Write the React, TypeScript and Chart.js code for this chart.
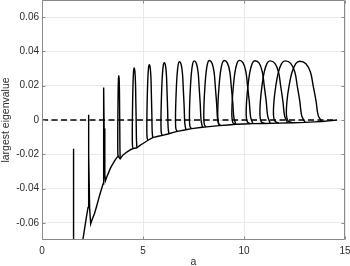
import React, { useEffect, useRef } from 'react';
import { Chart, registerables } from 'chart.js';

Chart.register(...registerables);

// axis ticks
const xTicks = [0, 5, 10, 15];
const xTickLabels = ['0', '5', '10', '15'];
const yTicks = [-0.06, -0.04, -0.02, 0, 0.02, 0.04, 0.06];
const yTickLabels = ['-0.06', '-0.04', '-0.02', '0', '0.02', '0.04', '0.06'];

// dashed zero reference line
const zeroLineA = [0, 14.6];
const zeroLineY = [0, 0];

// first isolated spike
const spikeA = [1.555, 1.56, 1.565];
const spikeY = [-0.085, -0.0167, -0.085];

// lower branch (with the two narrow spikes near a=2.3 and a=3.06)
const envA = [
  1.99, 2.03, 2.12, 2.2, 2.28, 2.3, 2.31, 2.32, 2.36, 2.41, 2.5, 2.6, 2.69, 2.85, 3.02, 3.045, 3.06, 3.075,
  3.11, 3.14, 3.25, 3.4, 3.6, 3.72, 3.775, 3.87, 4.0, 4.2, 4.4, 4.51, 4.7, 4.85, 5.0, 5.25, 5.48, 5.75,
  5.97, 6.28, 6.5, 6.705, 7.12, 7.415, 7.94, 8.145, 8.77, 9.2, 9.6, 10.0, 10.44, 11.04, 11.75, 12.43,
  13.02, 13.5, 13.85, 14.2, 14.6,
];
const envY = [
  -0.075, -0.0693, -0.0625, -0.0565, -0.051, -0.02, 0.003, -0.02, -0.052, -0.0606, -0.0575, -0.0545, -0.0509,
  -0.044, -0.0373, -0.005, 0.019, -0.005, -0.032, -0.0354, -0.032, -0.0278, -0.0237, -0.0217, -0.0212,
  -0.0227, -0.0205, -0.0187, -0.0172, -0.0167, -0.0162, -0.0148, -0.0137, -0.0118, -0.0103, -0.0095,
  -0.009, -0.008, -0.0072, -0.0066, -0.0057, -0.005, -0.0042, -0.004, -0.0033, -0.0029, -0.0025, -0.0023,
  -0.0021, -0.002, -0.0018, -0.0016, -0.0014, -0.0011, -0.0009, -0.0005, 0.0,
];

// loops (peak position/height, base level, leg widths, landing level)
const loopPeakA = [3.8, 4.56, 5.31, 6.05, 6.8, 7.53, 8.28, 9.02, 9.77, 10.54, 11.29, 12.04, 12.76];
const loopPeakY = [0.0258, 0.0303, 0.0322, 0.0334, 0.034, 0.0345, 0.0347, 0.0347, 0.0348, 0.0346, 0.0345, 0.0345, 0.0343];
const loopBaseY = [-0.0212, -0.0167, -0.0118, -0.009, -0.0066, -0.005, -0.004, -0.0032, -0.0026, -0.0022, -0.002, -0.0018, -0.0016];
const loopLeftW = [0.05, 0.09, 0.12, 0.16, 0.19, 0.23, 0.27, 0.32, 0.37, 0.43, 0.5, 0.58, 0.66];
const loopRightW = [0.06, 0.12, 0.15, 0.2, 0.28, 0.36, 0.43, 0.5, 0.58, 0.66, 0.75, 0.85, 0.95];
const loopEndY = [-0.0227, -0.0162, -0.0103, -0.008, -0.0057, -0.0042, -0.0033, -0.0025, -0.0021, -0.0019, -0.0017, -0.0014, -0.0009];

// profile of a loop leg: [fraction of leg width, fraction of height]
const leftProfile = [[0.55, 0], [0.88, 0.03], [1.0, 0.13], [0.96, 0.35], [0.8, 0.6], [0.58, 0.82], [0.3, 0.96]];
const rightProfile = [[0.32, 0.96], [0.56, 0.82], [0.7, 0.6], [0.85, 0.35], [0.96, 0.12]];

const AXIS = '#8a8a8a';
const TEXT = '#2b2b2b';
const GRID = '#e9e9e9';
const FONT = "'Liberation Sans', Arial, sans-serif";

function pairs(a: number[], b: number[]) {
  return a.map((v, i) => ({ x: v, y: b[i] }));
}

function buildLoop(i: number) {
  const pa = loopPeakA[i];
  const yp = loopPeakY[i];
  const yb = loopBaseY[i];
  const lw = loopLeftW[i];
  const rw = loopRightW[i];
  const H = yp - yb;
  const pts: { x: number; y: number }[] = [];
  leftProfile.forEach(([f, t]) => pts.push({ x: pa - f * lw, y: yb + t * H }));
  pts.push({ x: pa, y: yp });
  rightProfile.forEach(([f, t]) => pts.push({ x: pa + f * rw, y: yb + t * H }));
  pts.push({ x: pa + 1.15 * rw, y: loopEndY[i] });
  return pts;
}

const framePlugin = {
  id: 'frame',
  afterDatasetsDraw(chart: any) {
    const { ctx, chartArea } = chart;
    const { left, right, top, bottom } = chartArea;
    const xs = chart.scales.x;
    const ys = chart.scales.y;
    ctx.save();
    ctx.strokeStyle = AXIS;
    ctx.lineWidth = 1;
    const L = Math.round(left) + 0.5;
    const R = Math.round(right) - 0.5;
    const T = Math.round(top) + 0.5;
    const B = Math.round(bottom) - 0.5;
    ctx.beginPath();
    ctx.moveTo(L, T);
    ctx.lineTo(R, T);
    ctx.lineTo(R, B);
    ctx.lineTo(L, B);
    ctx.closePath();
    const tl = 3;
    xTicks.forEach((v) => {
      const px = Math.round(xs.getPixelForValue(v)) + 0.5;
      ctx.moveTo(px, B);
      ctx.lineTo(px, B - tl);
      ctx.moveTo(px, T);
      ctx.lineTo(px, T + tl);
    });
    yTicks.forEach((v) => {
      const py = Math.round(ys.getPixelForValue(v)) + 0.5;
      ctx.moveTo(L, py);
      ctx.lineTo(L + tl, py);
      ctx.moveTo(R, py);
      ctx.lineTo(R - tl, py);
    });
    ctx.stroke();
    ctx.restore();
  },
};

export default function App() {
  const ref = useRef<HTMLCanvasElement | null>(null);
  useEffect(() => {
    document.body.style.margin = '0';
    const canvas = ref.current;
    if (!canvas) return;
    const line = (data: any[], extra: any = {}) => ({
      data,
      showLine: true,
      borderColor: '#000',
      backgroundColor: '#000',
      borderWidth: 1.4,
      pointRadius: 0,
      pointHoverRadius: 0,
      fill: false,
      clip: 0,
      ...extra,
    });
    const datasets: any[] = [
      line(pairs(zeroLineA, zeroLineY), { borderDash: [6, 3.5], borderWidth: 1.3 }),
      line(pairs(spikeA, spikeY)),
      line(pairs(envA, envY), { tension: 0 }),
    ];
    loopPeakA.forEach((_, i) => datasets.push(line(buildLoop(i), { tension: 0.35 })));

    const chart = new Chart(canvas, {
      type: 'scatter',
      data: { datasets },
      plugins: [framePlugin],
      options: {
        animation: false,
        responsive: false,
        devicePixelRatio: 1,
        events: [],
        layout: { padding: { left: 0, right: 5, top: 0, bottom: 0 } },
        plugins: { legend: { display: false }, tooltip: { enabled: false } },
        scales: {
          x: {
            type: 'linear',
            min: 0,
            max: 15,
            border: { display: false },
            grid: { color: GRID, lineWidth: 1, drawTicks: false },
            ticks: {
              padding: 5,
              color: TEXT,
              font: { family: FONT, size: 10 },
              maxRotation: 0,
              callback: (_v: any, i: number) => xTickLabels[i],
            },
            title: {
              display: true,
              text: 'a',
              color: TEXT,
              font: { family: FONT, size: 10.5, lineHeight: 0.76 },
              padding: { top: 0, bottom: 0 },
            },
            afterBuildTicks: (s: any) => {
              s.ticks = xTicks.map((v) => ({ value: v }));
            },
            afterFit: (s: any) => {
              s.height = 26;
              s.paddingLeft = 0;
              s.paddingRight = 0;
            },
          },
          y: {
            type: 'linear',
            min: -0.07,
            max: 0.07,
            border: { display: false },
            grid: { color: GRID, lineWidth: 1, drawTicks: false },
            ticks: {
              padding: 3,
              color: TEXT,
              font: { family: FONT, size: 10 },
              callback: (_v: any, i: number) => yTickLabels[i],
            },
            title: {
              display: true,
              text: 'largest eigenvalue',
              color: TEXT,
              font: { family: FONT, size: 10.5, lineHeight: 1.2 },
              padding: { top: 0, bottom: 0 },
            },
            afterBuildTicks: (s: any) => {
              s.ticks = yTicks.map((v) => ({ value: v }));
            },
            afterFit: (s: any) => {
              s.width = 42;
              s.paddingTop = 0;
              s.paddingBottom = 0;
            },
          },
        },
      },
    });
    return () => chart.destroy();
  }, []);
  return (
    <div style={{ position: 'fixed', left: 0, top: 0, width: 350, height: 266, background: '#fff' }}>
      <canvas ref={ref} width={350} height={266} style={{ display: 'block', width: 350, height: 266 }} />
    </div>
  );
}
